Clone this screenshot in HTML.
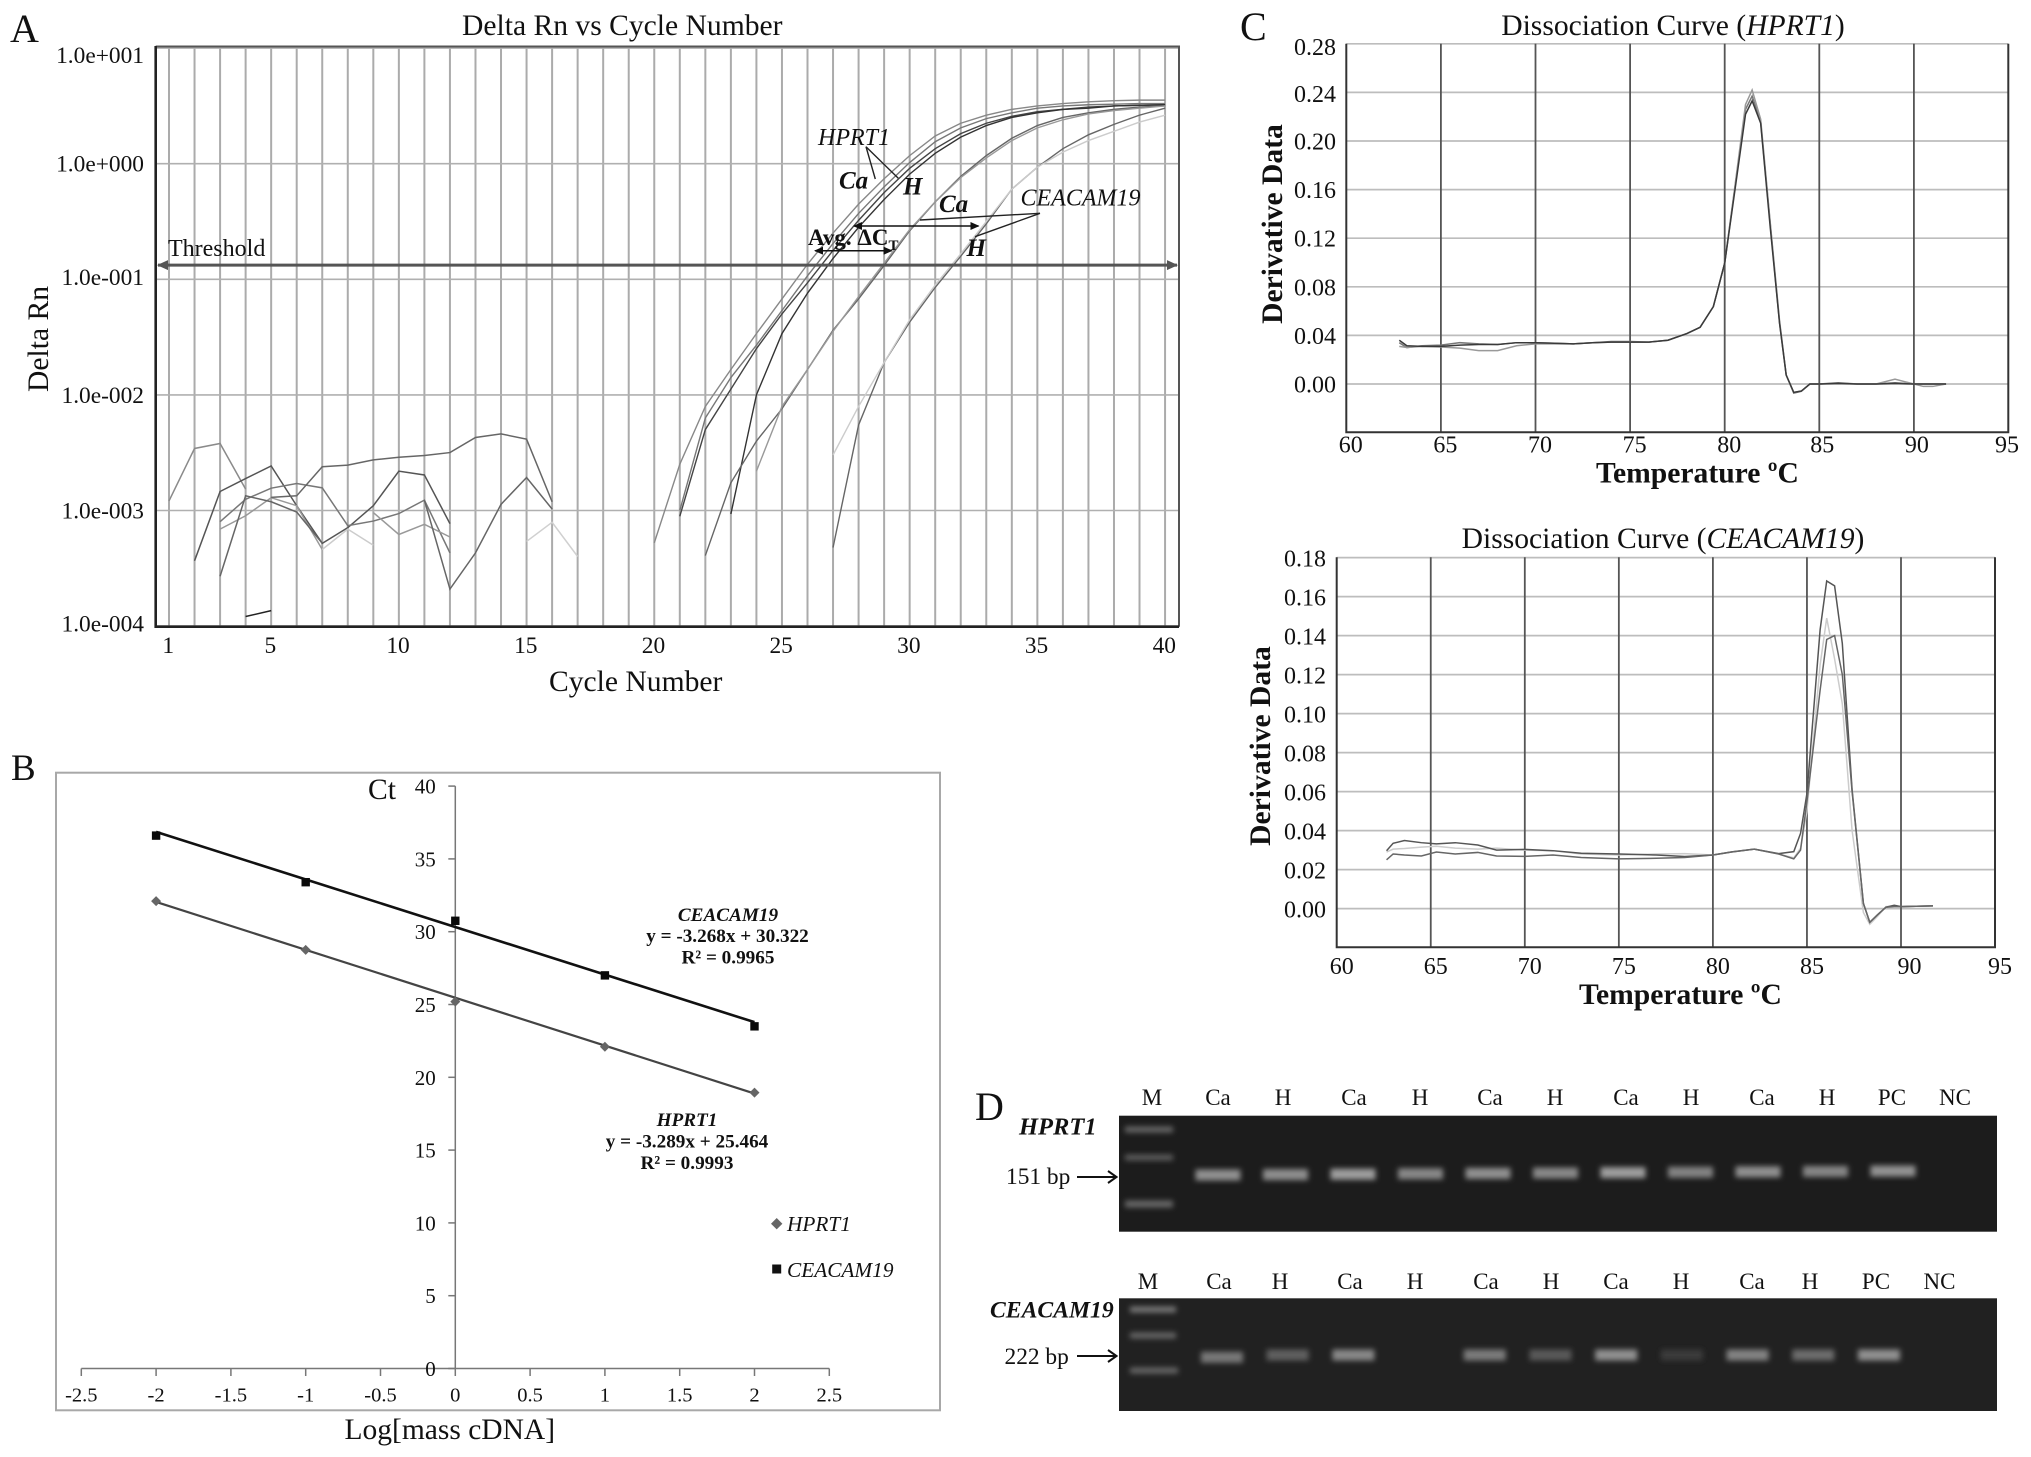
<!DOCTYPE html>
<html lang="en">
<head>
<meta charset="utf-8">
<title>qPCR figure: amplification, standard curves, dissociation curves and gels</title>
<style>
html,body{margin:0;padding:0;background:#fff;}
svg{display:block;font-family:"Liberation Serif",serif;}
text{fill:#111;}
.ann{font-style:italic;font-size:24px;}
.annb{font-style:italic;font-weight:bold;font-size:25px;}
.title{font-size:29.6px;}
.axt{font-size:29.6px;}
.bold-ax{font-size:29.6px;font-weight:bold;}
.eq{font-size:19.2px;font-weight:bold;text-anchor:middle;}
.letter{font-size:37px;}
.letter-big{font-size:40px;}
.lane{font-size:23px;text-anchor:middle;}
</style>
</head>
<body>
<svg id="figure" xmlns="http://www.w3.org/2000/svg" width="2031" height="1457" viewBox="0 0 2031 1457">
<defs>
<marker id="tri" markerUnits="userSpaceOnUse" markerWidth="10" markerHeight="8" refX="8" refY="4" orient="auto-start-reverse"><path d="M0 0L9 4L0 8Z" fill="#111"/></marker>
<marker id="triG" markerUnits="userSpaceOnUse" markerWidth="12" markerHeight="10" refX="10" refY="5" orient="auto-start-reverse"><path d="M0 0L11 5L0 10Z" fill="#555"/></marker>
<filter id="blurBand" x="-30%" y="-150%" width="160%" height="400%"><feGaussianBlur stdDeviation="2.7"/></filter>
</defs>
<rect x="0" y="0" width="2031" height="1457" fill="#fff"/>

<!-- Panel A -->
<g id="panelA">
<text class="letter-big" x="10" y="42">A</text>
<text class="title" x="462" y="35">Delta Rn vs Cycle Number</text>
<text class="axt" x="549" y="691">Cycle Number</text>
<text class="axt" transform="translate(48,392) rotate(-90)">Delta Rn</text>
<g id="aGrid"></g>
<g id="aSeries"></g>
<g id="aAxes"></g>
<text x="168" y="256" font-size="24">Threshold</text>
<text class="ann" x="818" y="145">HPRT1</text>
<line x1="866" y1="146.7" x2="875.3" y2="179" stroke="#222" stroke-width="1.4"/>
<line x1="866" y1="146.7" x2="898.3" y2="178.3" stroke="#222" stroke-width="1.4"/>
<text class="annb" x="839" y="188.5">Ca</text>
<text class="annb" x="903" y="194.5">H</text>
<text class="annb" x="939" y="212">Ca</text>
<text class="ann" x="1020.5" y="205.7">CEACAM19</text>
<line x1="1040" y1="213.3" x2="920" y2="220" stroke="#222" stroke-width="1.4"/>
<line x1="1040" y1="213.3" x2="975" y2="236.7" stroke="#222" stroke-width="1.4"/>
<line x1="854" y1="226" x2="978.5" y2="226" stroke="#111" stroke-width="1.5" marker-start="url(#tri)" marker-end="url(#tri)"/>
<line x1="815" y1="250.7" x2="891.7" y2="250.7" stroke="#111" stroke-width="1.5" marker-start="url(#tri)" marker-end="url(#tri)"/>
<text x="808" y="245" font-size="23" font-weight="bold">Avg. ΔC<tspan font-size="15" dy="5">T</tspan></text>
<text class="annb" x="966.5" y="256">H</text>
</g>

<!-- Panel B -->
<g id="panelB">
<text class="letter" x="11" y="780">B</text>
<rect x="56" y="772.7" width="884" height="637.6" fill="#fff" stroke="#a8a8a8" stroke-width="2"/>
<g id="bAxes"></g>
<g id="bSeries"></g>
<text x="368" y="799" font-size="29.6">Ct</text>
<text x="344.5" y="1439" font-size="29.5">Log[mass cDNA]</text>
<text class="eq" font-style="italic" x="728" y="921">CEACAM19</text>
<text class="eq" x="727.5" y="942">y = -3.268x + 30.322</text>
<text class="eq" x="728" y="963.7">R² = 0.9965</text>
<text class="eq" font-style="italic" x="687" y="1126">HPRT1</text>
<text class="eq" x="687" y="1147.7">y = -3.289x + 25.464</text>
<text class="eq" x="687" y="1169">R² = 0.9993</text>
<path d="M776.7 1218L782.4 1223.7L776.7 1229.4L771 1223.7Z" fill="#666"/>
<text x="787" y="1231" font-size="21.3" font-style="italic">HPRT1</text>
<rect x="772.2" y="1264.5" width="9" height="9" fill="#111"/>
<text x="787" y="1277" font-size="21.3" font-style="italic">CEACAM19</text>
</g>

<!-- Panel C -->
<g id="panelC">
<text class="letter-big" x="1240" y="40">C</text>
<text class="title" x="1673" y="35" text-anchor="middle">Dissociation Curve (<tspan font-style="italic">HPRT1</tspan>)</text>
<text class="bold-ax" x="1596" y="482.7">Temperature ºC</text>
<text class="bold-ax" transform="translate(1282,224) rotate(-90)" text-anchor="middle">Derivative Data</text>
<g id="c1Plot"></g>
<text class="title" x="1663" y="548" text-anchor="middle">Dissociation Curve (<tspan font-style="italic">CEACAM19</tspan>)</text>
<text class="bold-ax" x="1579" y="1004">Temperature ºC</text>
<text class="bold-ax" transform="translate(1270,746) rotate(-90)" text-anchor="middle">Derivative Data</text>
<g id="c2Plot"></g>
</g>

<!-- Panel D -->
<g id="panelD">
<text class="letter-big" x="975" y="1120">D</text>
<rect x="1119" y="1115.7" width="878" height="116" fill="#1c1c1c"/>
<rect x="1119" y="1298.3" width="878" height="112.7" fill="#212121"/>
<g filter="url(#blurBand)">
<rect x="1125" y="1126.5" width="48" height="6" fill="#666"/>
<rect x="1125" y="1154.5" width="48" height="6" fill="#5c5c5c"/>
<rect x="1125" y="1200.5" width="48" height="7" fill="#666"/>
</g>
<g filter="url(#blurBand)">
<rect x="1130" y="1306.5" width="46" height="6" fill="#777"/>
<rect x="1130" y="1332.5" width="46" height="6" fill="#666"/>
<rect x="1130" y="1367.5" width="48" height="6" fill="#666"/>
</g>
<g id="gelBands"></g>
<text x="1019" y="1134.3" font-size="24.5" font-weight="bold" font-style="italic">HPRT1</text>
<text x="990" y="1317.3" font-size="23.7" font-weight="bold" font-style="italic">CEACAM19</text>
<text x="1006" y="1184" font-size="23.4">151 bp</text>
<text x="1004.5" y="1364" font-size="23.4">222 bp</text>
<path d="M1077 1177H1116M1108 1171L1116.5 1177L1108 1183" fill="none" stroke="#111" stroke-width="2"/>
<path d="M1077 1356H1116M1108 1350L1116.5 1356L1108 1362" fill="none" stroke="#111" stroke-width="2"/>
<g>
<text class="lane" x="1152" y="1105">M</text>
<text class="lane" x="1218" y="1105">Ca</text>
<text class="lane" x="1283" y="1105">H</text>
<text class="lane" x="1354" y="1105">Ca</text>
<text class="lane" x="1420" y="1105">H</text>
<text class="lane" x="1490" y="1105">Ca</text>
<text class="lane" x="1555" y="1105">H</text>
<text class="lane" x="1626" y="1105">Ca</text>
<text class="lane" x="1691" y="1105">H</text>
<text class="lane" x="1762" y="1105">Ca</text>
<text class="lane" x="1827" y="1105">H</text>
<text class="lane" x="1892" y="1105">PC</text>
<text class="lane" x="1955" y="1105">NC</text>
</g>
<g>
<text class="lane" x="1148" y="1289">M</text>
<text class="lane" x="1219" y="1289">Ca</text>
<text class="lane" x="1280" y="1289">H</text>
<text class="lane" x="1350" y="1289">Ca</text>
<text class="lane" x="1415" y="1289">H</text>
<text class="lane" x="1486" y="1289">Ca</text>
<text class="lane" x="1551" y="1289">H</text>
<text class="lane" x="1616" y="1289">Ca</text>
<text class="lane" x="1681" y="1289">H</text>
<text class="lane" x="1752" y="1289">Ca</text>
<text class="lane" x="1810" y="1289">H</text>
<text class="lane" x="1876" y="1289">PC</text>
<text class="lane" x="1939.5" y="1289">NC</text>
</g>
</g>
</svg>

<script>
// ---------- Panel A data ----------
const aCycleTicks = [1, 5, 10, 15, 20, 25, 30, 35, 40];
const aLogTicks = [1, 0, -1, -2, -3, -4];
const aLogLabels = ["1.0e+001", "1.0e+000", "1.0e-001", "1.0e-002", "1.0e-003", "1.0e-004"];
const thresholdLog = -0.877;
const noiseCycles = [
  [1,2,3,4],
  [2,3,4,5,6,7,8,9,10,11,12],
  [3,4,5,6,7,8,9,10,11,12],
  [3,4,5,6,7],
  [5,6,7,8,9,10,11,12,13,14,15,16],
  [7,8,9],
  [3,4,5,6,7],
  [9,10,11,12],
  [11,12,13,14,15,16],
  [4,5],
  [15,16,17]
];
const noiseRn = [
  [1.21e-3,3.44e-3,3.8e-3,1.53e-3],
  [3.67e-4,1.46e-3,1.89e-3,2.43e-3,1.1e-3,5.2e-4,7.1e-4,1.1e-3,2.19e-3,2.03e-3,7.7e-4],
  [8e-4,1.25e-3,1.56e-3,1.71e-3,1.57e-3,7.4e-4,8.1e-4,9.4e-4,1.23e-3,4.3e-4],
  [6.9e-4,9e-4,1.29e-3,1.1e-3,4.6e-4],
  [1.3e-3,1.34e-3,2.39e-3,2.47e-3,2.74e-3,2.89e-3,2.99e-3,3.17e-3,4.28e-3,4.6e-3,4.14e-3,1.19e-3],
  [4.6e-4,6.9e-4,5e-4],
  [2.7e-4,1.34e-3,1.19e-3,9.7e-4,5.2e-4],
  [9.6e-4,6.2e-4,7.6e-4,5.9e-4],
  [1.23e-3,2.09e-4,4.3e-4,1.13e-3,1.93e-3,1.03e-3],
  [1.21e-4,1.36e-4],
  [5.4e-4,7.9e-4,4e-4]
];
const ampStartCycle = [20, 21, 21, 23, 22, 24, 27, 27];
const ampLogRn = [
  [-3.28,-2.6,-2.1,-1.78,-1.47,-1.17,-0.87,-0.6,-0.35,-0.13,0.07,0.24,0.35,0.42,0.47,0.5,0.52,0.535,0.545,0.55,0.55],
  [-3,-2.2,-1.85,-1.57,-1.27,-0.97,-0.69,-0.43,-0.2,0.01,0.19,0.31,0.39,0.44,0.48,0.5,0.51,0.515,0.52,0.52],
  [-3.05,-2.3,-1.95,-1.6,-1.3,-1.03,-0.75,-0.49,-0.25,-0.04,0.13,0.26,0.35,0.41,0.45,0.47,0.49,0.5,0.505,0.51],
  [-3.03,-2,-1.47,-1.12,-0.82,-0.55,-0.31,-0.09,0.09,0.23,0.33,0.4,0.44,0.47,0.48,0.5,0.505,0.51],
  [-3.39,-2.76,-2.4,-2.12,-1.78,-1.44,-1.17,-0.88,-0.58,-0.33,-0.11,0.07,0.22,0.33,0.4,0.44,0.47,0.49,0.5],
  [-2.66,-2.1,-1.78,-1.45,-1.15,-0.86,-0.57,-0.33,-0.12,0.05,0.2,0.31,0.38,0.43,0.46,0.48,0.5],
  [-3.32,-2.26,-1.72,-1.37,-1.07,-0.8,-0.52,-0.22,-0.03,0.13,0.25,0.34,0.42,0.48],
  [-2.52,-2.1,-1.72,-1.35,-1.05,-0.78,-0.5,-0.22,-0.03,0.1,0.2,0.28,0.36,0.42]
];
const noiseStroke = ["#8a8a8a","#555","#777","#999","#666","#ccc","#666","#999","#666","#222","#d0d0d0"];
const ampStroke = ["#888","#777","#444","#333","#666","#999","#666","#ccc"];

// ---------- Panel B data ----------
const bXTicks = [-2.5,-2,-1.5,-1,-0.5,0,0.5,1,1.5,2,2.5];
const bYTicks = [0,5,10,15,20,25,30,35,40];
const massLog = [-2,-1,0,1,2];
const ctCeacam19 = [36.6,33.4,30.75,27.0,23.5];
const ctHprt1 = [32.1,28.75,25.2,22.1,18.95];
const fitCeacam19 = [-3.268, 30.322];
const fitHprt1 = [-3.289, 25.464];

// ---------- Panel C data ----------
const tempTicks = [60,65,70,75,80,85,90,95];
const c1YTicks = [0,0.04,0.08,0.12,0.16,0.2,0.24,0.28];
const c2YTicks = [0,0.02,0.04,0.06,0.08,0.1,0.12,0.14,0.16,0.18];
const c1Temp = [62.8,63.2,64,65,66,67,68,69,70,71,72,73,74,75,76,77,78,78.7,79.4,80,80.5,81.1,81.45,81.9,82.4,82.9,83.25,83.65,84.05,84.5,85,86,87,88,89,90,90.5,91,91.7];
const c1Curves = [
  [.034,.03,.0315,.032,.034,.033,.0325,.034,.034,.0335,.033,.034,.035,.035,.0345,.036,.0415,.0467,.0637,.0995,.157,.226,.237,.216,.133,.05,.0074,-.0075,-.006,0,0,.001,0,0,.001,0,0,0,0],
  [.031,.03,.031,.0305,.0295,.0275,.0275,.0315,.033,.033,.033,.034,.0345,.0345,.0345,.036,.0415,.0467,.0637,.0995,.158,.23,.242,.218,.134,.052,.0074,-.007,-.0058,0,0,.0005,0,0,.004,0,-.002,-.002,0],
  [.036,.0315,.031,.031,.032,.0325,.0325,.034,.034,.0335,.033,.034,.0345,.0345,.0345,.036,.0415,.0467,.0637,.0995,.155,.222,.233,.2147,.13,.05,.0074,-.0069,-.0058,0,0,.0005,0,0,.0005,0,0,0,0]
];
const c2Temp = [62.65,63,63.6,64.5,65.3,66.3,67.5,68.5,70,71.5,73,75,77,78.5,80,81,82.2,83.5,84.3,84.66,85,85.7,86.05,86.47,86.88,87.4,88,88.34,88.75,89.2,89.64,90,91.7];
const c2Curves = [
  [.029,.0305,.0308,.0315,.032,.031,.0305,.031,.03,.0297,.028,.0275,.028,.0282,.0275,.029,.0305,.028,.026,.031,.05,.125,.149,.128,.105,.04,-.002,-.008,-.004,.001,.0012,.001,.0014],
  [.0297,.0335,.0349,.0338,.0332,.0338,.0326,.03,.0304,.0297,.0284,.028,.0275,.0267,.0275,.0291,.0305,.0282,.0292,.0386,.0591,.143,.168,.1655,.136,.061,.0027,-.007,-.0032,.0007,.0017,.001,.0014],
  [.025,.028,.0275,.027,.029,.028,.0288,.027,.0268,.0275,.0262,.0255,.0258,.0262,.0275,.029,.0305,.028,.0255,.03,.055,.112,.138,.14,.12,.06,.0027,-.007,-.0032,.0007,.001,.001,.0014]
];
const c1Stroke = ["#777","#999","#3a3a3a"];
const c2Stroke = ["#ccc","#555","#666"];

// ---------- Panel D data ----------
const gelHprt1Intensity = [.78,.76,.88,.72,.78,.72,.88,.68,.78,.7,.8];
const gelCeacamIntensity = [.6,.42,.72,0,.62,.38,.78,.15,.68,.52,.78];

// ---------- Helpers ----------
const NS = "http://www.w3.org/2000/svg";
function mk(parent, tag, attrs, txt) {
  const el = document.createElementNS(NS, tag);
  for (const k in attrs) el.setAttribute(k, attrs[k]);
  if (txt !== undefined) el.textContent = txt;
  parent.appendChild(el);
  return el;
}
function pathOf(xs, ys) {
  return xs.map((x, i) => (i ? "L" : "M") + x.toFixed(2) + " " + ys[i].toFixed(2)).join("");
}

// ---------- Panel A ----------
const xCycle = c => 169 + (c - 1) * 25.54;
const yLog = l => 163.7 - l * 115.6;
const aLabelShift = l => (l === 1 ? 15 : (l === -1 || l === -4) ? 5.5 : 8);
const aGrid = document.getElementById("aGrid");
const aSeries = document.getElementById("aSeries");
const aAxes = document.getElementById("aAxes");
for (let c = 1; c <= 40; c++) {
  const v = mk(aGrid, "line", {x1: xCycle(c), x2: xCycle(c), y1: 46, y2: 626.7, stroke: "#ababab", "stroke-width": 2});
  
  
}
aLogTicks.forEach(l => {
  const h = mk(aGrid, "line", {x1: 155.7, x2: 1179, y1: yLog(l), y2: yLog(l), stroke: "#b0b0b0", "stroke-width": 1.6});
  
  
});
noiseRn.forEach((vals, i) => {
  const xs = noiseCycles[i].map(xCycle);
  const ys = vals.map(v => yLog(Math.log10(v)));
  const p = mk(aSeries, "path", {d: pathOf(xs, ys), fill: "none", stroke: noiseStroke[i], "stroke-width": 1.5});
  
  
});
ampLogRn.forEach((vals, i) => {
  const xs = vals.map((_, j) => xCycle(ampStartCycle[i] + j));
  const ys = vals.map(yLog);
  const p = mk(aSeries, "path", {d: pathOf(xs, ys), fill: "none", stroke: ampStroke[i], "stroke-width": 1.4});
  
  
});
const thr = mk(aAxes, "line", {x1: 158, x2: 1177, y1: yLog(thresholdLog), y2: yLog(thresholdLog), stroke: "#555", "stroke-width": 3, "marker-start": "url(#triG)", "marker-end": "url(#triG)"});


const aFrame = mk(aAxes, "path", {d: "M155.7 46.5H1179V626.7", fill: "none", stroke: "#555", "stroke-width": 2});


const aAxisLines = mk(aAxes, "path", {d: "M155.7 46V626.7H1179", fill: "none", stroke: "#222", "stroke-width": 2.6});


aCycleTicks.forEach(c => {
  const t = mk(aAxes, "text", {x: xCycle(c) - 0.8, y: 653, "text-anchor": "middle", "font-size": 23.4}, String(c));
  
  
});
aLogTicks.forEach((l, i) => {
  const t = mk(aAxes, "text", {x: 144, y: yLog(l) + aLabelShift(l), "text-anchor": "end", "font-size": 23.4}, aLogLabels[i]);
  
  
});

// ---------- Panel B ----------
const xMass = v => 455.3 + v * 149.6;
const yCt = v => 1368.5 - v * 14.56;
const bAxes = document.getElementById("bAxes");
const bSeries = document.getElementById("bSeries");
const bLines = mk(bAxes, "path", {d: "M" + xMass(-2.5) + " " + yCt(0) + "H" + xMass(2.5) + "M" + xMass(0) + " " + yCt(0) + "V" + yCt(40), fill: "none", stroke: "#777", "stroke-width": 1.5});


bXTicks.forEach(v => {
  const tk = mk(bAxes, "line", {x1: xMass(v), x2: xMass(v), y1: yCt(0), y2: yCt(0) + 7.5, stroke: "#777", "stroke-width": 1.5});
  
  
  const t = mk(bAxes, "text", {x: xMass(v), y: 1401.3, "text-anchor": "middle", "font-size": 20.5}, String(v));
  
  
});
bYTicks.forEach(v => {
  const tk = mk(bAxes, "line", {x1: xMass(0) - 7, x2: xMass(0), y1: yCt(v), y2: yCt(v), stroke: "#777", "stroke-width": 1.5});
  
  
  const t = mk(bAxes, "text", {x: 435.7, y: yCt(v) + 7.5, "text-anchor": "end", "font-size": 21}, String(v));
  
  
});
const fitY = (fit, x) => yCt(fit[0] * x + fit[1]);
const tlH = mk(bSeries, "line", {x1: xMass(-2), x2: xMass(2), y1: fitY(fitHprt1, -2), y2: fitY(fitHprt1, 2), stroke: "#444", "stroke-width": 2.2});


const tlC = mk(bSeries, "line", {x1: xMass(-2), x2: xMass(2), y1: fitY(fitCeacam19, -2), y2: fitY(fitCeacam19, 2), stroke: "#111", "stroke-width": 2.6});


massLog.forEach((m, i) => {
  const cx = xMass(m), cy = yCt(ctHprt1[i]);
  const d = mk(bSeries, "path", {d: `M${cx} ${cy - 5}L${cx + 5} ${cy}L${cx} ${cy + 5}L${cx - 5} ${cy}Z`, fill: "#666"});
  
  
  const s = mk(bSeries, "rect", {x: xMass(m) - 4.2, y: yCt(ctCeacam19[i]) - 4.2, width: 8.4, height: 8.4, fill: "#0a0a0a"});
  
  
});

// ---------- Panel C ----------
function drawMelt(group, left, right, top, bottom, xFn, yFn, yTicks, temps, curves, strokes, xLabelY, yLabelX, xShiftFn, prefix, yShiftFn) {
  yTicks.forEach(v => {
    const h = mk(group, "line", {x1: left, x2: right, y1: yFn(v), y2: yFn(v), stroke: "#bdbdbd", "stroke-width": 1.7});
    
    
    const t = mk(group, "text", {x: yLabelX, y: yFn(v) + yShiftFn(v), "text-anchor": "end", "font-size": 24}, v.toFixed(2));
    
    
  });
  tempTicks.forEach(v => {
    const isEdge = v === tempTicks[0] || v === tempTicks[tempTicks.length - 1];
    if (!isEdge) {
      const g = mk(group, "line", {x1: xFn(v), x2: xFn(v), y1: top, y2: bottom, stroke: "#555", "stroke-width": 1.8});
      
      
    }
    const t = mk(group, "text", {x: xFn(v) + xShiftFn(v), y: xLabelY, "text-anchor": "middle", "font-size": 24}, String(v));
    
    
  });
  curves.forEach((vals, i) => {
    const p = mk(group, "path", {d: pathOf(temps.map(xFn), vals.map(yFn)), fill: "none", stroke: strokes[i], "stroke-width": 1.5});
    
    
  });
  const fr = mk(group, "path", {d: `M${left} ${top}V${bottom}H${right}V${top}`, fill: "none", stroke: "#333", "stroke-width": 2});
  
  
}
const xC1 = t => 1346.3 + (t - 60) * 18.92;
const yC1 = v => 384 - v * 1215;
drawMelt(document.getElementById("c1Plot"), 1346.3, 2008.3, 43.7, 432.3, xC1, yC1, c1YTicks, c1Temp, c1Curves, c1Stroke, 452.3, 1336,
  t => (t === 95 ? -1.5 : t === 85 ? 3 : t === 90 ? 3 : 4.5), "c1",
  v => (v > 0.27 ? 11 : v > 0.23 ? 9.5 : 8.5));
const xC2 = t => 1336.7 + (t - 60) * 18.81;
const yC2 = v => 908.6 - v * 1950;
drawMelt(document.getElementById("c2Plot"), 1336.7, 1995, 557.3, 947.3, xC2, yC2, c2YTicks, c2Temp, c2Curves, c2Stroke, 974, 1326,
  t => (t === 90 ? 8.5 : 5), "c2",
  v => 9);

// ---------- Panel D ----------
const gelBands = document.getElementById("gelBands");
const bandGray = k => { const g = Math.round(38 + k * 135); return `rgb(${g},${g},${g})`; };
gelHprt1Intensity.forEach((k, i) => {
  const cx = 1218 + i * 67.5;
  const cy = 1175 - i * 0.4;
  const b = mk(gelBands, "rect", {x: cx - 22.5, y: cy - 5.5, width: 45, height: 11, fill: bandGray(k), filter: "url(#blurBand)"});
  
  
});
gelCeacamIntensity.forEach((k, i) => {
  if (k <= 0) return;
  const cx = 1222 + i * 65.7;
  const cy = i === 0 ? 1357.3 : 1355;
  const b = mk(gelBands, "rect", {x: cx - 21, y: cy - 5.5, width: 42, height: 11, fill: bandGray(k), filter: "url(#blurBand)"});
  
  
});
</script>
</body>
</html>
